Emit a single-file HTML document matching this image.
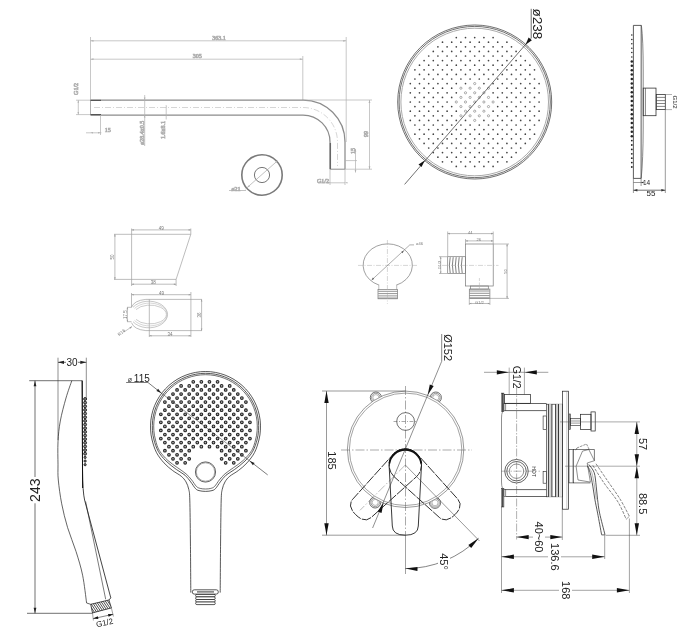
<!DOCTYPE html>
<html><head><meta charset="utf-8"><style>
html,body{margin:0;padding:0;background:#fff;}
svg{display:block;font-family:"Liberation Sans",sans-serif;filter:grayscale(1);}
</style></head><body>
<svg width="685" height="630" viewBox="0 0 685 630">
<rect width="685" height="630" fill="#fff"/>
<g stroke="#b0b0b0" stroke-width="0.7" fill="none">
<line x1="90.5" y1="40.8" x2="346.2" y2="40.8" stroke="#b0b0b0"/>
<path d="M90.5 40.8L93.5 39.9L93.5 41.7Z" fill="#b0b0b0" stroke="none"/>
<path d="M346.2 40.8L343.2 41.7L343.2 39.9Z" fill="#b0b0b0" stroke="none"/>
<line x1="90.5" y1="59.2" x2="302.8" y2="59.2" stroke="#b0b0b0"/>
<path d="M90.5 59.2L93.5 58.3L93.5 60.1Z" fill="#b0b0b0" stroke="none"/>
<path d="M302.8 59.2L299.8 60.1L299.8 58.3Z" fill="#b0b0b0" stroke="none"/>
<line x1="90.5" y1="37" x2="90.5" y2="100"/>
<line x1="302.8" y1="56" x2="302.8" y2="100"/>
<line x1="346.2" y1="37" x2="346.2" y2="142"/>
<text x="218.9" y="38.3" font-size="6" text-anchor="middle" dominant-baseline="central" fill="#888" font-family="Liberation Serif">363.1</text>
<text x="197.3" y="56.3" font-size="6" text-anchor="middle" dominant-baseline="central" fill="#888" font-family="Liberation Serif">305</text>
<path d="M90.5 100 L303 100 A42 42 0 0 1 345 142 L345 169.2" fill="none" stroke="#8c8c8c" stroke-width="1.25"/>
<path d="M90.5 115 L303 115 A27 27 0 0 1 330 142 L330 169.2" fill="none" stroke="#8c8c8c" stroke-width="1.25"/>
<line x1="90.5" y1="100" x2="90.5" y2="115" stroke="#8c8c8c" stroke-width="0.7"/>
<line x1="330" y1="169.2" x2="345" y2="169.2" stroke="#8c8c8c" stroke-width="1"/>
<path d="M94 107.5 L303 107.5 A34.5 34.5 0 0 1 337.5 142 L337.5 166" fill="none" stroke="#bbb" stroke-width="0.6" stroke-dasharray="6 2 1 2"/>
<line x1="90.5" y1="100.4" x2="101" y2="100.4" stroke="#555" stroke-width="1.2"/>
<line x1="90.5" y1="114.6" x2="101" y2="114.6" stroke="#555" stroke-width="1.2"/>
<line x1="330.4" y1="143" x2="330.4" y2="169" stroke="#666" stroke-width="1.3"/>
<line x1="303" y1="100" x2="372" y2="100"/>
<line x1="345" y1="169.2" x2="372" y2="169.2"/>
<line x1="369.5" y1="100" x2="369.5" y2="169.2" stroke="#b0b0b0"/>
<path d="M369.5 100L370.4 103L368.6 103Z" fill="#b0b0b0" stroke="none"/>
<path d="M369.5 169.2L368.6 166.2L370.4 166.2Z" fill="#b0b0b0" stroke="none"/>
<text x="366" y="134" font-size="6" text-anchor="middle" dominant-baseline="central" transform="rotate(-90 366 134)" fill="#888" font-family="Liberation Serif">99</text>
<line x1="345" y1="160.6" x2="357" y2="160.6"/>
<line x1="355.5" y1="149" x2="355.5" y2="172.5" stroke="#b0b0b0"/>
<path d="M355.5 149L356.3 151.5L354.7 151.5Z" fill="#b0b0b0" stroke="none"/>
<path d="M355.5 172.5L354.7 170L356.3 170Z" fill="#b0b0b0" stroke="none"/>
<text x="353" y="151" font-size="6" text-anchor="middle" dominant-baseline="central" transform="rotate(-90 353 151)" fill="#888" font-family="Liberation Serif">15</text>
<line x1="330" y1="169.2" x2="330" y2="185"/>
<line x1="345" y1="169.2" x2="345" y2="185"/>
<line x1="318" y1="182.8" x2="345" y2="182.8"/>
<path d="M330 182.8L327.5 183.6L327.5 182Z" fill="#b0b0b0" stroke="none"/>
<path d="M345 182.8L347.5 182L347.5 183.6Z" fill="#b0b0b0" stroke="none"/>
<text x="323" y="181" font-size="6" text-anchor="middle" dominant-baseline="central" fill="#888" font-family="Liberation Serif">G1/2</text>
<line x1="76" y1="100.2" x2="90" y2="100.2"/>
<line x1="76" y1="114.6" x2="90" y2="114.6"/>
<line x1="78.3" y1="100.2" x2="78.3" y2="114.6" stroke="#b0b0b0"/>
<path d="M78.3 100.2L79.1 102.7L77.5 102.7Z" fill="#b0b0b0" stroke="none"/>
<path d="M78.3 114.6L77.5 112.1L79.1 112.1Z" fill="#b0b0b0" stroke="none"/>
<text x="76.5" y="88.9" font-size="6" text-anchor="middle" dominant-baseline="central" transform="rotate(-90 76.5 88.9)" fill="#888" font-family="Liberation Serif">G1/2</text>
<line x1="100.5" y1="115" x2="100.5" y2="135"/>
<line x1="86" y1="132.8" x2="101.4" y2="132.8"/>
<path d="M90.5 132.8L93 132L93 133.6Z" fill="#b0b0b0" stroke="none"/>
<path d="M100.5 132.8L98 133.6L98 132Z" fill="#b0b0b0" stroke="none"/>
<text x="107.7" y="130.2" font-size="6" text-anchor="middle" dominant-baseline="central" fill="#888" font-family="Liberation Serif">15</text>
<line x1="144.7" y1="95" x2="144.7" y2="146"/>
<path d="M144.7 100L143.9 97.5L145.5 97.5Z" fill="#b0b0b0" stroke="none"/>
<path d="M144.7 115L145.5 117.5L143.9 117.5Z" fill="#b0b0b0" stroke="none"/>
<text x="142.1" y="132.8" font-size="6" text-anchor="middle" dominant-baseline="central" transform="rotate(-90 142.1 132.8)" fill="#888" font-family="Liberation Serif">ø28.4x0.5</text>
<line x1="166.2" y1="107" x2="166.2" y2="119.5"/>
<path d="M166.2 107.5L165.5 105.5L166.9 105.5Z" fill="#b0b0b0" stroke="none"/>
<text x="163.3" y="130" font-size="6" text-anchor="middle" dominant-baseline="central" transform="rotate(-90 163.3 130)" fill="#888" font-family="Liberation Serif">1.6x8.1</text>
<circle cx="262" cy="175" r="20.2" fill="none" stroke="#7a7a7a" stroke-width="1.6"/>
<circle cx="262" cy="175" r="7.6" fill="none" stroke="#777" stroke-width="1.0"/>
<line x1="245.5" y1="189" x2="277.5" y2="160.8" stroke="#999" stroke-width="0.6"/>
<path d="M277.5 160.8L276.14 163.04L275.09 161.84Z" fill="#b0b0b0" stroke="none"/>
<path d="M247.5 187.5L248.86 185.26L249.91 186.46Z" fill="#b0b0b0" stroke="none"/>
<line x1="229" y1="190.5" x2="246" y2="190.5" stroke="#999" stroke-width="0.6"/>
<text x="236" y="188.5" font-size="6" text-anchor="middle" dominant-baseline="central" fill="#888" font-family="Liberation Serif">ø21</text>
</g>
<g stroke="#444" fill="none">
<circle cx="474.7" cy="102" r="77" fill="none" stroke="#333" stroke-width="0.7"/>
<circle cx="474.7" cy="102" r="75.6" fill="none" stroke="#333" stroke-width="0.7"/>
<circle cx="474.7" cy="102" r="73.8" fill="none" stroke="#aaa" stroke-width="1.0"/>
</g>
<g fill="#444"><circle cx="456.3" cy="37.6" r="0.85"/><circle cx="465.5" cy="37.6" r="0.85"/><circle cx="474.7" cy="37.6" r="0.85"/><circle cx="483.9" cy="37.6" r="0.85"/><circle cx="493.1" cy="37.6" r="0.85"/><circle cx="442.5" cy="42.2" r="0.85"/><circle cx="451.7" cy="42.2" r="0.85"/><circle cx="460.9" cy="42.2" r="0.85"/><circle cx="470.1" cy="42.2" r="0.85"/><circle cx="479.3" cy="42.2" r="0.85"/><circle cx="488.5" cy="42.2" r="0.85"/><circle cx="497.7" cy="42.2" r="0.85"/><circle cx="506.9" cy="42.2" r="0.85"/><circle cx="437.9" cy="46.8" r="0.85"/><circle cx="447.1" cy="46.8" r="0.85"/><circle cx="456.3" cy="46.8" r="0.85"/><circle cx="465.5" cy="46.8" r="0.85"/><circle cx="474.7" cy="46.8" r="0.85"/><circle cx="483.9" cy="46.8" r="0.85"/><circle cx="493.1" cy="46.8" r="0.85"/><circle cx="502.3" cy="46.8" r="0.85"/><circle cx="511.5" cy="46.8" r="0.85"/><circle cx="433.3" cy="51.4" r="0.85"/><circle cx="442.5" cy="51.4" r="0.85"/><circle cx="451.7" cy="51.4" r="0.85"/><circle cx="460.9" cy="51.4" r="0.85"/><circle cx="470.1" cy="51.4" r="0.85"/><circle cx="479.3" cy="51.4" r="0.85"/><circle cx="488.5" cy="51.4" r="0.85"/><circle cx="497.7" cy="51.4" r="0.85"/><circle cx="506.9" cy="51.4" r="0.85"/><circle cx="516.1" cy="51.4" r="0.85"/><circle cx="428.7" cy="56" r="0.85"/><circle cx="437.9" cy="56" r="0.85"/><circle cx="447.1" cy="56" r="0.85"/><circle cx="456.3" cy="56" r="0.85"/><circle cx="465.5" cy="56" r="0.85"/><circle cx="474.7" cy="56" r="0.85"/><circle cx="483.9" cy="56" r="0.85"/><circle cx="493.1" cy="56" r="0.85"/><circle cx="502.3" cy="56" r="0.85"/><circle cx="511.5" cy="56" r="0.85"/><circle cx="520.7" cy="56" r="0.85"/><circle cx="424.1" cy="60.6" r="0.85"/><circle cx="433.3" cy="60.6" r="0.85"/><circle cx="442.5" cy="60.6" r="0.85"/><circle cx="451.7" cy="60.6" r="0.85"/><circle cx="460.9" cy="60.6" r="0.85"/><circle cx="470.1" cy="60.6" r="0.85"/><circle cx="479.3" cy="60.6" r="0.85"/><circle cx="488.5" cy="60.6" r="0.85"/><circle cx="497.7" cy="60.6" r="0.85"/><circle cx="506.9" cy="60.6" r="0.85"/><circle cx="516.1" cy="60.6" r="0.85"/><circle cx="525.3" cy="60.6" r="0.85"/><circle cx="419.5" cy="65.2" r="0.85"/><circle cx="428.7" cy="65.2" r="0.85"/><circle cx="437.9" cy="65.2" r="0.85"/><circle cx="447.1" cy="65.2" r="0.85"/><circle cx="456.3" cy="65.2" r="0.85"/><circle cx="465.5" cy="65.2" r="0.85"/><circle cx="474.7" cy="65.2" r="0.85"/><circle cx="483.9" cy="65.2" r="0.85"/><circle cx="493.1" cy="65.2" r="0.85"/><circle cx="502.3" cy="65.2" r="0.85"/><circle cx="511.5" cy="65.2" r="0.85"/><circle cx="520.7" cy="65.2" r="0.85"/><circle cx="529.9" cy="65.2" r="0.85"/><circle cx="414.9" cy="69.8" r="0.85"/><circle cx="424.1" cy="69.8" r="0.85"/><circle cx="433.3" cy="69.8" r="0.85"/><circle cx="442.5" cy="69.8" r="0.85"/><circle cx="451.7" cy="69.8" r="0.85"/><circle cx="460.9" cy="69.8" r="0.85"/><circle cx="470.1" cy="69.8" r="0.85"/><circle cx="479.3" cy="69.8" r="0.85"/><circle cx="488.5" cy="69.8" r="0.85"/><circle cx="497.7" cy="69.8" r="0.85"/><circle cx="506.9" cy="69.8" r="0.85"/><circle cx="516.1" cy="69.8" r="0.85"/><circle cx="525.3" cy="69.8" r="0.85"/><circle cx="534.5" cy="69.8" r="0.85"/><circle cx="419.5" cy="74.4" r="0.85"/><circle cx="428.7" cy="74.4" r="0.85"/><circle cx="437.9" cy="74.4" r="0.85"/><circle cx="447.1" cy="74.4" r="0.85"/><circle cx="456.3" cy="74.4" r="0.85"/><circle cx="465.5" cy="74.4" r="0.85"/><circle cx="474.7" cy="74.4" r="0.85"/><circle cx="483.9" cy="74.4" r="0.85"/><circle cx="493.1" cy="74.4" r="0.85"/><circle cx="502.3" cy="74.4" r="0.85"/><circle cx="511.5" cy="74.4" r="0.85"/><circle cx="520.7" cy="74.4" r="0.85"/><circle cx="529.9" cy="74.4" r="0.85"/><circle cx="414.9" cy="79" r="0.85"/><circle cx="424.1" cy="79" r="0.85"/><circle cx="433.3" cy="79" r="0.85"/><circle cx="442.5" cy="79" r="0.85"/><circle cx="451.7" cy="79" r="0.85"/><circle cx="460.9" cy="79" r="0.85"/><circle cx="470.1" cy="79" r="0.85"/><circle cx="479.3" cy="79" r="0.85"/><circle cx="488.5" cy="79" r="0.85"/><circle cx="497.7" cy="79" r="0.85"/><circle cx="506.9" cy="79" r="0.85"/><circle cx="516.1" cy="79" r="0.85"/><circle cx="525.3" cy="79" r="0.85"/><circle cx="534.5" cy="79" r="0.85"/><circle cx="410.3" cy="83.6" r="0.85"/><circle cx="419.5" cy="83.6" r="0.85"/><circle cx="428.7" cy="83.6" r="0.85"/><circle cx="437.9" cy="83.6" r="0.85"/><circle cx="447.1" cy="83.6" r="0.85"/><circle cx="456.3" cy="83.6" r="0.85"/><circle cx="465.5" cy="83.6" r="0.85"/><circle cx="474.7" cy="83.6" r="1.1" fill="none" stroke="#777" stroke-width="0.6"/><circle cx="483.9" cy="83.6" r="0.85"/><circle cx="493.1" cy="83.6" r="0.85"/><circle cx="502.3" cy="83.6" r="0.85"/><circle cx="511.5" cy="83.6" r="0.85"/><circle cx="520.7" cy="83.6" r="0.85"/><circle cx="529.9" cy="83.6" r="0.85"/><circle cx="539.1" cy="83.6" r="0.85"/><circle cx="414.9" cy="88.2" r="0.85"/><circle cx="424.1" cy="88.2" r="0.85"/><circle cx="433.3" cy="88.2" r="0.85"/><circle cx="442.5" cy="88.2" r="0.85"/><circle cx="451.7" cy="88.2" r="0.85"/><circle cx="460.9" cy="88.2" r="1.1" fill="none" stroke="#777" stroke-width="0.6"/><circle cx="470.1" cy="88.2" r="1.1" fill="none" stroke="#777" stroke-width="0.6"/><circle cx="479.3" cy="88.2" r="1.1" fill="none" stroke="#777" stroke-width="0.6"/><circle cx="488.5" cy="88.2" r="1.1" fill="none" stroke="#777" stroke-width="0.6"/><circle cx="497.7" cy="88.2" r="0.85"/><circle cx="506.9" cy="88.2" r="0.85"/><circle cx="516.1" cy="88.2" r="0.85"/><circle cx="525.3" cy="88.2" r="0.85"/><circle cx="534.5" cy="88.2" r="0.85"/><circle cx="410.3" cy="92.8" r="0.85"/><circle cx="419.5" cy="92.8" r="0.85"/><circle cx="428.7" cy="92.8" r="0.85"/><circle cx="437.9" cy="92.8" r="0.85"/><circle cx="447.1" cy="92.8" r="0.85"/><circle cx="456.3" cy="92.8" r="0.85"/><circle cx="465.5" cy="92.8" r="1.1" fill="none" stroke="#777" stroke-width="0.6"/><circle cx="474.7" cy="92.8" r="1.1" fill="none" stroke="#777" stroke-width="0.6"/><circle cx="483.9" cy="92.8" r="1.1" fill="none" stroke="#777" stroke-width="0.6"/><circle cx="493.1" cy="92.8" r="0.85"/><circle cx="502.3" cy="92.8" r="0.85"/><circle cx="511.5" cy="92.8" r="0.85"/><circle cx="520.7" cy="92.8" r="0.85"/><circle cx="529.9" cy="92.8" r="0.85"/><circle cx="539.1" cy="92.8" r="0.85"/><circle cx="414.9" cy="97.4" r="0.85"/><circle cx="424.1" cy="97.4" r="0.85"/><circle cx="433.3" cy="97.4" r="0.85"/><circle cx="442.5" cy="97.4" r="0.85"/><circle cx="451.7" cy="97.4" r="0.85"/><circle cx="460.9" cy="97.4" r="1.1" fill="none" stroke="#777" stroke-width="0.6"/><circle cx="470.1" cy="97.4" r="1.1" fill="none" stroke="#777" stroke-width="0.6"/><circle cx="479.3" cy="97.4" r="1.1" fill="none" stroke="#777" stroke-width="0.6"/><circle cx="488.5" cy="97.4" r="1.1" fill="none" stroke="#777" stroke-width="0.6"/><circle cx="497.7" cy="97.4" r="0.85"/><circle cx="506.9" cy="97.4" r="0.85"/><circle cx="516.1" cy="97.4" r="0.85"/><circle cx="525.3" cy="97.4" r="0.85"/><circle cx="534.5" cy="97.4" r="0.85"/><circle cx="410.3" cy="102" r="0.85"/><circle cx="419.5" cy="102" r="0.85"/><circle cx="428.7" cy="102" r="0.85"/><circle cx="437.9" cy="102" r="0.85"/><circle cx="447.1" cy="102" r="0.85"/><circle cx="456.3" cy="102" r="1.1" fill="none" stroke="#777" stroke-width="0.6"/><circle cx="465.5" cy="102" r="1.1" fill="none" stroke="#777" stroke-width="0.6"/><circle cx="474.7" cy="102" r="1.1" fill="none" stroke="#777" stroke-width="0.6"/><circle cx="483.9" cy="102" r="1.1" fill="none" stroke="#777" stroke-width="0.6"/><circle cx="493.1" cy="102" r="1.1" fill="none" stroke="#777" stroke-width="0.6"/><circle cx="502.3" cy="102" r="0.85"/><circle cx="511.5" cy="102" r="0.85"/><circle cx="520.7" cy="102" r="0.85"/><circle cx="529.9" cy="102" r="0.85"/><circle cx="539.1" cy="102" r="0.85"/><circle cx="414.9" cy="106.6" r="0.85"/><circle cx="424.1" cy="106.6" r="0.85"/><circle cx="433.3" cy="106.6" r="0.85"/><circle cx="442.5" cy="106.6" r="0.85"/><circle cx="451.7" cy="106.6" r="0.85"/><circle cx="460.9" cy="106.6" r="1.1" fill="none" stroke="#777" stroke-width="0.6"/><circle cx="470.1" cy="106.6" r="1.1" fill="none" stroke="#777" stroke-width="0.6"/><circle cx="479.3" cy="106.6" r="1.1" fill="none" stroke="#777" stroke-width="0.6"/><circle cx="488.5" cy="106.6" r="1.1" fill="none" stroke="#777" stroke-width="0.6"/><circle cx="497.7" cy="106.6" r="0.85"/><circle cx="506.9" cy="106.6" r="0.85"/><circle cx="516.1" cy="106.6" r="0.85"/><circle cx="525.3" cy="106.6" r="0.85"/><circle cx="534.5" cy="106.6" r="0.85"/><circle cx="410.3" cy="111.2" r="0.85"/><circle cx="419.5" cy="111.2" r="0.85"/><circle cx="428.7" cy="111.2" r="0.85"/><circle cx="437.9" cy="111.2" r="0.85"/><circle cx="447.1" cy="111.2" r="0.85"/><circle cx="456.3" cy="111.2" r="0.85"/><circle cx="465.5" cy="111.2" r="1.1" fill="none" stroke="#777" stroke-width="0.6"/><circle cx="474.7" cy="111.2" r="1.1" fill="none" stroke="#777" stroke-width="0.6"/><circle cx="483.9" cy="111.2" r="1.1" fill="none" stroke="#777" stroke-width="0.6"/><circle cx="493.1" cy="111.2" r="0.85"/><circle cx="502.3" cy="111.2" r="0.85"/><circle cx="511.5" cy="111.2" r="0.85"/><circle cx="520.7" cy="111.2" r="0.85"/><circle cx="529.9" cy="111.2" r="0.85"/><circle cx="539.1" cy="111.2" r="0.85"/><circle cx="414.9" cy="115.8" r="0.85"/><circle cx="424.1" cy="115.8" r="0.85"/><circle cx="433.3" cy="115.8" r="0.85"/><circle cx="442.5" cy="115.8" r="0.85"/><circle cx="451.7" cy="115.8" r="0.85"/><circle cx="460.9" cy="115.8" r="1.1" fill="none" stroke="#777" stroke-width="0.6"/><circle cx="470.1" cy="115.8" r="1.1" fill="none" stroke="#777" stroke-width="0.6"/><circle cx="479.3" cy="115.8" r="1.1" fill="none" stroke="#777" stroke-width="0.6"/><circle cx="488.5" cy="115.8" r="1.1" fill="none" stroke="#777" stroke-width="0.6"/><circle cx="497.7" cy="115.8" r="0.85"/><circle cx="506.9" cy="115.8" r="0.85"/><circle cx="516.1" cy="115.8" r="0.85"/><circle cx="525.3" cy="115.8" r="0.85"/><circle cx="534.5" cy="115.8" r="0.85"/><circle cx="410.3" cy="120.4" r="0.85"/><circle cx="419.5" cy="120.4" r="0.85"/><circle cx="428.7" cy="120.4" r="0.85"/><circle cx="437.9" cy="120.4" r="0.85"/><circle cx="447.1" cy="120.4" r="0.85"/><circle cx="456.3" cy="120.4" r="0.85"/><circle cx="465.5" cy="120.4" r="0.85"/><circle cx="474.7" cy="120.4" r="1.1" fill="none" stroke="#777" stroke-width="0.6"/><circle cx="483.9" cy="120.4" r="0.85"/><circle cx="493.1" cy="120.4" r="0.85"/><circle cx="502.3" cy="120.4" r="0.85"/><circle cx="511.5" cy="120.4" r="0.85"/><circle cx="520.7" cy="120.4" r="0.85"/><circle cx="529.9" cy="120.4" r="0.85"/><circle cx="539.1" cy="120.4" r="0.85"/><circle cx="414.9" cy="125" r="0.85"/><circle cx="424.1" cy="125" r="0.85"/><circle cx="433.3" cy="125" r="0.85"/><circle cx="442.5" cy="125" r="0.85"/><circle cx="451.7" cy="125" r="0.85"/><circle cx="460.9" cy="125" r="0.85"/><circle cx="470.1" cy="125" r="0.85"/><circle cx="479.3" cy="125" r="0.85"/><circle cx="488.5" cy="125" r="0.85"/><circle cx="497.7" cy="125" r="0.85"/><circle cx="506.9" cy="125" r="0.85"/><circle cx="516.1" cy="125" r="0.85"/><circle cx="525.3" cy="125" r="0.85"/><circle cx="534.5" cy="125" r="0.85"/><circle cx="419.5" cy="129.6" r="0.85"/><circle cx="428.7" cy="129.6" r="0.85"/><circle cx="437.9" cy="129.6" r="0.85"/><circle cx="447.1" cy="129.6" r="0.85"/><circle cx="456.3" cy="129.6" r="0.85"/><circle cx="465.5" cy="129.6" r="0.85"/><circle cx="474.7" cy="129.6" r="0.85"/><circle cx="483.9" cy="129.6" r="0.85"/><circle cx="493.1" cy="129.6" r="0.85"/><circle cx="502.3" cy="129.6" r="0.85"/><circle cx="511.5" cy="129.6" r="0.85"/><circle cx="520.7" cy="129.6" r="0.85"/><circle cx="529.9" cy="129.6" r="0.85"/><circle cx="414.9" cy="134.2" r="0.85"/><circle cx="424.1" cy="134.2" r="0.85"/><circle cx="433.3" cy="134.2" r="0.85"/><circle cx="442.5" cy="134.2" r="0.85"/><circle cx="451.7" cy="134.2" r="0.85"/><circle cx="460.9" cy="134.2" r="0.85"/><circle cx="470.1" cy="134.2" r="0.85"/><circle cx="479.3" cy="134.2" r="0.85"/><circle cx="488.5" cy="134.2" r="0.85"/><circle cx="497.7" cy="134.2" r="0.85"/><circle cx="506.9" cy="134.2" r="0.85"/><circle cx="516.1" cy="134.2" r="0.85"/><circle cx="525.3" cy="134.2" r="0.85"/><circle cx="534.5" cy="134.2" r="0.85"/><circle cx="419.5" cy="138.8" r="0.85"/><circle cx="428.7" cy="138.8" r="0.85"/><circle cx="437.9" cy="138.8" r="0.85"/><circle cx="447.1" cy="138.8" r="0.85"/><circle cx="456.3" cy="138.8" r="0.85"/><circle cx="465.5" cy="138.8" r="0.85"/><circle cx="474.7" cy="138.8" r="0.85"/><circle cx="483.9" cy="138.8" r="0.85"/><circle cx="493.1" cy="138.8" r="0.85"/><circle cx="502.3" cy="138.8" r="0.85"/><circle cx="511.5" cy="138.8" r="0.85"/><circle cx="520.7" cy="138.8" r="0.85"/><circle cx="529.9" cy="138.8" r="0.85"/><circle cx="424.1" cy="143.4" r="0.85"/><circle cx="433.3" cy="143.4" r="0.85"/><circle cx="442.5" cy="143.4" r="0.85"/><circle cx="451.7" cy="143.4" r="0.85"/><circle cx="460.9" cy="143.4" r="0.85"/><circle cx="470.1" cy="143.4" r="0.85"/><circle cx="479.3" cy="143.4" r="0.85"/><circle cx="488.5" cy="143.4" r="0.85"/><circle cx="497.7" cy="143.4" r="0.85"/><circle cx="506.9" cy="143.4" r="0.85"/><circle cx="516.1" cy="143.4" r="0.85"/><circle cx="525.3" cy="143.4" r="0.85"/><circle cx="428.7" cy="148" r="0.85"/><circle cx="437.9" cy="148" r="0.85"/><circle cx="447.1" cy="148" r="0.85"/><circle cx="456.3" cy="148" r="0.85"/><circle cx="465.5" cy="148" r="0.85"/><circle cx="474.7" cy="148" r="0.85"/><circle cx="483.9" cy="148" r="0.85"/><circle cx="493.1" cy="148" r="0.85"/><circle cx="502.3" cy="148" r="0.85"/><circle cx="511.5" cy="148" r="0.85"/><circle cx="520.7" cy="148" r="0.85"/><circle cx="433.3" cy="152.6" r="0.85"/><circle cx="442.5" cy="152.6" r="0.85"/><circle cx="451.7" cy="152.6" r="0.85"/><circle cx="460.9" cy="152.6" r="0.85"/><circle cx="470.1" cy="152.6" r="0.85"/><circle cx="479.3" cy="152.6" r="0.85"/><circle cx="488.5" cy="152.6" r="0.85"/><circle cx="497.7" cy="152.6" r="0.85"/><circle cx="506.9" cy="152.6" r="0.85"/><circle cx="516.1" cy="152.6" r="0.85"/><circle cx="437.9" cy="157.2" r="0.85"/><circle cx="447.1" cy="157.2" r="0.85"/><circle cx="456.3" cy="157.2" r="0.85"/><circle cx="465.5" cy="157.2" r="0.85"/><circle cx="474.7" cy="157.2" r="0.85"/><circle cx="483.9" cy="157.2" r="0.85"/><circle cx="493.1" cy="157.2" r="0.85"/><circle cx="502.3" cy="157.2" r="0.85"/><circle cx="511.5" cy="157.2" r="0.85"/><circle cx="442.5" cy="161.8" r="0.85"/><circle cx="451.7" cy="161.8" r="0.85"/><circle cx="460.9" cy="161.8" r="0.85"/><circle cx="470.1" cy="161.8" r="0.85"/><circle cx="479.3" cy="161.8" r="0.85"/><circle cx="488.5" cy="161.8" r="0.85"/><circle cx="497.7" cy="161.8" r="0.85"/><circle cx="506.9" cy="161.8" r="0.85"/><circle cx="456.3" cy="166.4" r="0.85"/><circle cx="465.5" cy="166.4" r="0.85"/><circle cx="474.7" cy="166.4" r="0.85"/><circle cx="483.9" cy="166.4" r="0.85"/><circle cx="493.1" cy="166.4" r="0.85"/></g>
<line x1="404.6" y1="184.4" x2="530.5" y2="38.8" stroke="#333" stroke-width="0.7"/>
<line x1="530.5" y1="38.8" x2="531.2" y2="38.3" stroke="#333" stroke-width="0.7"/>
<path d="M424.6 160.5L421.56 167.12L418.53 164.51Z" fill="#111" stroke="none"/>
<path d="M525.6 44.8L528.56 37.6L531.87 40.18Z" fill="#111" stroke="none"/>
<line x1="531.2" y1="8.8" x2="531.2" y2="38.3" stroke="#333" stroke-width="0.7"/>
<text x="537" y="23.8" font-size="13.5" text-anchor="middle" dominant-baseline="central" transform="rotate(90 537 23.8)" fill="#222">ø238</text>
<g stroke="#333" stroke-width="0.8" fill="none">
<path d="M641.3 25.4 L633.4 25.4 L633.4 178.4 L641.1 178.4 L641.2 25.4" fill="none"/>
<path d="M641.4 25.4 Q643.2 40 643.2 70 L643.2 128 Q643.1 160 641.2 178.3" fill="none" stroke="#555" stroke-width="0.7"/>
<line x1="641.1" y1="178.3" x2="641.1" y2="186" stroke="#555" stroke-width="0.6"/>
<rect x="643.2" y="88.1" width="12.8" height="27.6" fill="none"/>
<line x1="645.4" y1="88.1" x2="645.4" y2="115.7" stroke="#333" stroke-width="0.6"/>
<rect x="656.3" y="94.5" width="9" height="15.1" fill="none"/>
<line x1="656.5" y1="97.4" x2="665.1" y2="97.4" stroke="#333" stroke-width="0.6"/>
<line x1="656.5" y1="100.6" x2="665.1" y2="100.6" stroke="#333" stroke-width="0.6"/>
<line x1="656.5" y1="103.5" x2="665.1" y2="103.5" stroke="#333" stroke-width="0.6"/>
<line x1="656.5" y1="106.4" x2="665.1" y2="106.4" stroke="#333" stroke-width="0.6"/>
<line x1="665.3" y1="94.5" x2="672" y2="94.5" stroke="#666" stroke-width="0.5"/>
<line x1="665.3" y1="109.6" x2="672" y2="109.6" stroke="#666" stroke-width="0.5"/>
<line x1="665.3" y1="109.6" x2="665.3" y2="193" stroke="#555" stroke-width="0.6"/>
</g>
<g fill="#222"><circle cx="631.8" cy="35" r="0.75"/><circle cx="631.8" cy="39.4" r="0.75"/><circle cx="631.8" cy="43.8" r="0.75"/><circle cx="631.8" cy="48.2" r="0.75"/><circle cx="631.8" cy="52.6" r="0.75"/><circle cx="631.8" cy="57" r="0.75"/><circle cx="631.8" cy="61.4" r="1.25"/><circle cx="631.8" cy="65.8" r="1.25"/><circle cx="631.8" cy="70.2" r="1.25"/><circle cx="631.8" cy="74.6" r="1.25"/><circle cx="631.8" cy="79" r="1.25"/><circle cx="631.8" cy="83.4" r="1.25"/><circle cx="631.8" cy="87.8" r="1.25"/><circle cx="631.8" cy="92.2" r="1.25"/><circle cx="631.8" cy="96.6" r="1.25"/><circle cx="631.8" cy="101" r="1.25"/><circle cx="631.8" cy="105.4" r="1.25"/><circle cx="631.8" cy="109.8" r="1.25"/><circle cx="631.8" cy="114.2" r="1.25"/><circle cx="631.8" cy="118.6" r="1.25"/><circle cx="631.8" cy="123" r="1.25"/><circle cx="631.8" cy="127.4" r="1.25"/><circle cx="631.8" cy="131.8" r="1.25"/><circle cx="631.8" cy="136.2" r="1.25"/><circle cx="631.8" cy="140.6" r="0.9"/><circle cx="631.8" cy="145" r="0.9"/><circle cx="631.8" cy="149.4" r="0.9"/><circle cx="631.8" cy="153.8" r="0.9"/><circle cx="631.8" cy="158.2" r="0.9"/><circle cx="631.8" cy="162.6" r="0.9"/><circle cx="631.8" cy="167" r="0.9"/></g>
<line x1="633.4" y1="190.2" x2="665.3" y2="190.2" stroke="#333" stroke-width="0.7"/>
<path d="M633.4 190.2L637.4 188.9L637.4 191.5Z" fill="#333" stroke="none"/>
<path d="M665.3 190.2L661.3 191.5L661.3 188.9Z" fill="#333" stroke="none"/>
<line x1="633.4" y1="178" x2="633.4" y2="193" stroke="#555" stroke-width="0.6"/>
<text x="651" y="193.6" font-size="8" text-anchor="middle" dominant-baseline="central" fill="#222">55</text>
<line x1="633.4" y1="182.5" x2="643" y2="182.5" stroke="#555" stroke-width="0.6"/>
<path d="M641.1 182.5L643.6 181.5L643.6 183.5Z" fill="#333" stroke="none"/>
<text x="646.6" y="182.5" font-size="6.5" text-anchor="middle" dominant-baseline="central" fill="#222">14</text>
<text x="675" y="102" font-size="6" text-anchor="middle" dominant-baseline="central" transform="rotate(90 675 102)" fill="#222">G1/2</text>
<g stroke="#999" stroke-width="0.65" fill="none">
<path d="M131.6 234.3 L190.8 234.3 L176.1 279.4 L131.6 279.4" fill="none"/>
<line x1="131.6" y1="228.5" x2="131.6" y2="286"/>
<line x1="114" y1="234.3" x2="131.6" y2="234.3"/>
<line x1="114" y1="279.4" x2="131.6" y2="279.4"/>
<line x1="190.8" y1="228.5" x2="190.8" y2="234.3"/>
<line x1="176.1" y1="279.4" x2="176.1" y2="286"/>
<line x1="131.6" y1="229.9" x2="190.8" y2="229.9" stroke="#999"/>
<path d="M131.6 229.9L133.8 229.1L133.8 230.7Z" fill="#999" stroke="none"/>
<path d="M190.8 229.9L188.6 230.7L188.6 229.1Z" fill="#999" stroke="none"/>
<line x1="114.9" y1="234.3" x2="114.9" y2="279.4" stroke="#999"/>
<path d="M114.9 234.3L115.7 236.5L114.1 236.5Z" fill="#999" stroke="none"/>
<path d="M114.9 279.4L114.1 277.2L115.7 277.2Z" fill="#999" stroke="none"/>
<line x1="131.6" y1="284.2" x2="176.1" y2="284.2" stroke="#999"/>
<path d="M131.6 284.2L133.8 283.4L133.8 285Z" fill="#999" stroke="none"/>
<path d="M176.1 284.2L173.9 285L173.9 283.4Z" fill="#999" stroke="none"/>
<line x1="131.5" y1="293" x2="131.5" y2="307.3"/>
<line x1="131.5" y1="294.7" x2="190.9" y2="294.7" stroke="#999"/>
<path d="M131.5 294.7L133.7 293.9L133.7 295.5Z" fill="#999" stroke="none"/>
<path d="M190.9 294.7L188.7 295.5L188.7 293.9Z" fill="#999" stroke="none"/>
<line x1="145.8" y1="299.4" x2="202" y2="299.4"/>
<line x1="145.8" y1="330.6" x2="202" y2="330.6"/>
<line x1="190.9" y1="292" x2="190.9" y2="337"/>
<line x1="149.3" y1="299.4" x2="149.3" y2="337"/>
<line x1="201.6" y1="299.4" x2="201.6" y2="330.6" stroke="#999"/>
<path d="M201.6 299.4L202.4 301.6L200.8 301.6Z" fill="#999" stroke="none"/>
<path d="M201.6 330.6L200.8 328.4L202.4 328.4Z" fill="#999" stroke="none"/>
<line x1="149.3" y1="335.8" x2="190.9" y2="335.8" stroke="#999"/>
<path d="M149.3 335.8L151.5 335L151.5 336.6Z" fill="#999" stroke="none"/>
<path d="M190.9 335.8L188.7 336.6L188.7 335Z" fill="#999" stroke="none"/>
<path d="M131.5 307.3 Q134 300.5 145.8 299.4" fill="none"/>
<path d="M131.5 322.7 Q134 329.5 145.8 330.6" fill="none"/>
<path d="M133 307.3 A18.76 13.3 0 1 1 133 321.7" fill="none" stroke="#aaa" stroke-width="0.65"/>
<path d="M134.5 308.6 A17.6 11.4 0 1 1 134.5 320.4" fill="none" stroke="#bbb" stroke-width="0.6"/>
<path d="M136 309.6 A16.4 9.4 0 1 1 136 319.4" fill="none" stroke="#aaa" stroke-width="0.6"/>
<line x1="127" y1="307.3" x2="131.5" y2="307.3"/>
<line x1="127" y1="321.7" x2="131.5" y2="321.7"/>
<line x1="127.4" y1="307.3" x2="127.4" y2="321.7" stroke="#999"/>
<path d="M127.4 307.3L128.2 309.3L126.6 309.3Z" fill="#999" stroke="none"/>
<path d="M127.4 321.7L126.6 319.7L128.2 319.7Z" fill="#999" stroke="none"/>
<line x1="132" y1="326.5" x2="124" y2="332" stroke="#999" stroke-width="0.6"/>
<path d="M132 326.5L130.47 328.67L129.44 327.2Z" fill="#999" stroke="none"/>
</g>
<text x="161.2" y="228.3" font-size="4.5" text-anchor="middle" dominant-baseline="central" fill="#777">49</text>
<text x="112.3" y="257" font-size="4.5" text-anchor="middle" dominant-baseline="central" transform="rotate(-90 112.3 257)" fill="#777">50</text>
<text x="153.2" y="282.6" font-size="4.5" text-anchor="middle" dominant-baseline="central" fill="#777">38</text>
<text x="161.5" y="293" font-size="4.5" text-anchor="middle" dominant-baseline="central" fill="#777">49</text>
<text x="199.4" y="315" font-size="4.5" text-anchor="middle" dominant-baseline="central" transform="rotate(-90 199.4 315)" fill="#777">36</text>
<text x="170" y="334.2" font-size="4.5" text-anchor="middle" dominant-baseline="central" fill="#777">34</text>
<text x="125.2" y="314.5" font-size="4.5" text-anchor="middle" dominant-baseline="central" transform="rotate(-90 125.2 314.5)" fill="#777">17.5</text>
<text x="121.5" y="332.5" font-size="4.5" text-anchor="middle" dominant-baseline="central" transform="rotate(-40 121.5 332.5)" fill="#777">R16</text>
<g stroke="#999" stroke-width="0.65" fill="none">
<path d="M378.8 285 A24.6 21.3 0 1 1 396.7 285" fill="none" stroke="#777" stroke-width="0.7"/>
<line x1="378.8" y1="284.5" x2="378.8" y2="289.5"/>
<line x1="396.7" y1="284.5" x2="396.7" y2="289.5"/>
<rect x="378" y="289.5" width="19.6" height="9.3" fill="none" stroke="#777" stroke-width="0.7"/>
<line x1="378.3" y1="291.3" x2="397.3" y2="291.3" stroke="#666" stroke-width="0.7"/>
<line x1="378.3" y1="293.6" x2="397.3" y2="293.6" stroke="#666" stroke-width="0.7"/>
<line x1="378.3" y1="295.9" x2="397.3" y2="295.9" stroke="#666" stroke-width="0.7"/>
<line x1="378.3" y1="298" x2="397.3" y2="298" stroke="#666" stroke-width="0.7"/>
<line x1="387.4" y1="240" x2="387.4" y2="303.8" stroke="#aaa" stroke-width="0.5" stroke-dasharray="5 1.5 1 1.5"/>
<line x1="358" y1="265.4" x2="417.5" y2="265.4" stroke="#aaa" stroke-width="0.5" stroke-dasharray="5 1.5 1 1.5"/>
<line x1="371.7" y1="280" x2="409.8" y2="244.9" stroke="#777" stroke-width="0.6"/>
<line x1="409.8" y1="244.9" x2="414" y2="244.9" stroke="#777" stroke-width="0.6"/>
<path d="M371.7 280L372.86 277.57L374.22 279.04Z" fill="#555" stroke="none"/>
<path d="M403.8 250.8L402.64 253.23L401.28 251.76Z" fill="#555" stroke="none"/>
<rect x="465.5" y="244" width="27.7" height="42" fill="none" stroke="#777" stroke-width="0.7"/>
<rect x="447.7" y="256.7" width="17.8" height="16.8" fill="none" stroke="#777" stroke-width="0.7"/>
<path d="M450.2 257.2 Q448.6 265 450.2 273" fill="none" stroke="#555" stroke-width="0.75"/>
<path d="M453.2 257.2 Q451.6 265 453.2 273" fill="none" stroke="#555" stroke-width="0.75"/>
<path d="M456.2 257.2 Q454.6 265 456.2 273" fill="none" stroke="#555" stroke-width="0.75"/>
<path d="M459.2 257.2 Q457.6 265 459.2 273" fill="none" stroke="#555" stroke-width="0.75"/>
<path d="M462.2 257.2 Q460.6 265 462.2 273" fill="none" stroke="#555" stroke-width="0.75"/>
<line x1="439" y1="256.7" x2="447.7" y2="256.7"/>
<line x1="439" y1="273.5" x2="447.7" y2="273.5"/>
<line x1="440.7" y1="256.7" x2="440.7" y2="273.5" stroke="#999"/>
<path d="M440.7 256.7L441.5 258.7L439.9 258.7Z" fill="#999" stroke="none"/>
<path d="M440.7 273.5L439.9 271.5L441.5 271.5Z" fill="#999" stroke="none"/>
<line x1="447.7" y1="231.5" x2="447.7" y2="256.7"/>
<line x1="493.2" y1="231.5" x2="493.2" y2="244"/>
<line x1="465.5" y1="239" x2="465.5" y2="244"/>
<line x1="447.7" y1="233.6" x2="493.2" y2="233.6" stroke="#999"/>
<path d="M447.7 233.6L449.9 232.8L449.9 234.4Z" fill="#999" stroke="none"/>
<path d="M493.2 233.6L491 234.4L491 232.8Z" fill="#999" stroke="none"/>
<line x1="465.5" y1="240.9" x2="493.2" y2="240.9" stroke="#999"/>
<path d="M465.5 240.9L467.7 240.1L467.7 241.7Z" fill="#999" stroke="none"/>
<path d="M493.2 240.9L491 241.7L491 240.1Z" fill="#999" stroke="none"/>
<line x1="493.2" y1="244" x2="509" y2="244"/>
<line x1="489.9" y1="298.4" x2="509" y2="298.4"/>
<line x1="507.1" y1="244" x2="507.1" y2="298.4" stroke="#999"/>
<path d="M507.1 244L507.9 246.2L506.3 246.2Z" fill="#999" stroke="none"/>
<path d="M507.1 298.4L506.3 296.2L507.9 296.2Z" fill="#999" stroke="none"/>
<rect x="470.6" y="286" width="17.7" height="3.1" fill="none" stroke="#777" stroke-width="0.7"/>
<rect x="469.3" y="289.1" width="20.6" height="9.3" fill="none" stroke="#777" stroke-width="0.7"/>
<line x1="469.6" y1="291" x2="489.6" y2="291" stroke="#666" stroke-width="0.7"/>
<line x1="469.6" y1="293.3" x2="489.6" y2="293.3" stroke="#666" stroke-width="0.7"/>
<line x1="469.6" y1="295.6" x2="489.6" y2="295.6" stroke="#666" stroke-width="0.7"/>
<line x1="469.6" y1="297.8" x2="489.6" y2="297.8" stroke="#666" stroke-width="0.7"/>
<line x1="469.3" y1="298.4" x2="469.3" y2="305"/>
<line x1="489.9" y1="298.4" x2="489.9" y2="305"/>
<line x1="469.3" y1="303.5" x2="489.9" y2="303.5" stroke="#999"/>
<path d="M469.3 303.5L471.3 302.7L471.3 304.3Z" fill="#999" stroke="none"/>
<path d="M489.9 303.5L487.9 304.3L487.9 302.7Z" fill="#999" stroke="none"/>
<line x1="442" y1="265.4" x2="498.5" y2="265.4" stroke="#aaa" stroke-width="0.5" stroke-dasharray="5 1.5 1 1.5"/>
<line x1="479.4" y1="278" x2="479.4" y2="290" stroke="#aaa" stroke-width="0.5" stroke-dasharray="3 1.5"/>
</g>
<text x="419.5" y="243.6" font-size="4" text-anchor="middle" dominant-baseline="central" fill="#777">ø46</text>
<text x="439" y="265" font-size="4" text-anchor="middle" dominant-baseline="central" transform="rotate(-90 439 265)" fill="#777">G1/2</text>
<text x="470.3" y="232" font-size="4" text-anchor="middle" dominant-baseline="central" fill="#777">44</text>
<text x="478.8" y="239.3" font-size="4" text-anchor="middle" dominant-baseline="central" fill="#777">26</text>
<text x="505.3" y="271.5" font-size="4" text-anchor="middle" dominant-baseline="central" transform="rotate(-90 505.3 271.5)" fill="#777">50</text>
<text x="479.4" y="302.2" font-size="4" text-anchor="middle" dominant-baseline="central" fill="#777">G1/2</text>
<g stroke="#222" stroke-width="0.8" fill="none">
<line x1="58" y1="357.7" x2="58" y2="440" stroke="#444" stroke-width="0.6"/>
<line x1="86.3" y1="357.7" x2="86.3" y2="400" stroke="#444" stroke-width="0.6"/>
<line x1="58" y1="362.3" x2="66" y2="362.3" stroke="#333" stroke-width="0.7"/>
<line x1="78" y1="362.3" x2="86.3" y2="362.3" stroke="#333" stroke-width="0.7"/>
<line x1="29.2" y1="380.7" x2="82.2" y2="380.7" stroke="#333" stroke-width="0.7"/>
<line x1="27" y1="613.3" x2="92.5" y2="613.3" stroke="#333" stroke-width="0.7"/>
<line x1="35" y1="380.7" x2="35" y2="477" stroke="#333" stroke-width="0.7"/>
<line x1="35" y1="503.3" x2="35" y2="613.3" stroke="#333" stroke-width="0.7"/>
<path d="M71.8 380.7C70.83 383.58 67.92 391.28 66 398C64.08 404.72 61.63 413.72 60.3 421C58.97 428.28 58.38 434.4 58 441.7C57.62 449 57.95 458.42 58 464.8C58.05 471.18 57.68 473.5 58.3 480C58.92 486.5 60.15 495.87 61.7 503.8C63.25 511.73 65.22 519.67 67.6 527.6C69.98 535.53 73.5 543.47 76 551.4C78.5 559.33 80.83 566.6 82.6 575.2C84.37 583.8 85.93 598.37 86.6 603L90.7 604.3" fill="none" stroke="#222" stroke-width="0.7"/>
<path d="M82.2 380.7 L82.5 470 Q82.7 492 84.6 500 L110.8 597.9 L108.9 600" fill="none" stroke="#222" stroke-width="0.85"/>
<path d="M85.6 501.4 L105.7 599.3" fill="none" stroke="#222" stroke-width="0.6"/>
<line x1="82.2" y1="380.7" x2="82.6" y2="488" stroke="#111" stroke-width="1.0"/>
</g>
<g fill="#888" stroke="#1a1a1a" stroke-width="0.9"><circle cx="85.1" cy="399" r="1.45"/><circle cx="85.1" cy="402.65" r="1.45"/><circle cx="85.1" cy="406.3" r="1.45"/><circle cx="85.1" cy="409.95" r="1.45"/><circle cx="85.1" cy="413.6" r="1.45"/><circle cx="85.1" cy="417.25" r="1.45"/><circle cx="85.1" cy="420.9" r="1.45"/><circle cx="85.1" cy="424.55" r="1.45"/><circle cx="85.1" cy="428.2" r="1.45"/><circle cx="85.1" cy="431.85" r="1.45"/><circle cx="85.1" cy="435.5" r="1.45"/><circle cx="85.1" cy="439.15" r="1.45"/><circle cx="85.1" cy="442.8" r="1.45"/><circle cx="85.1" cy="446.45" r="1.45"/><circle cx="85.1" cy="450.1" r="1.45"/><circle cx="85.1" cy="453.75" r="1.45"/><circle cx="85.1" cy="457.4" r="1.1"/><circle cx="85.1" cy="461.05" r="1.1"/><circle cx="85.1" cy="464.7" r="1.1"/></g>
<clipPath id="thr"><path d="M90.7 604.3 L108.9 600 L111.4 607.9 L92.5 612.9 Z"/></clipPath>
<g clip-path="url(#thr)" stroke="#222" stroke-width="0.8"><line x1="78" y1="598" x2="90" y2="616"/><line x1="80.3" y1="598" x2="92.3" y2="616"/><line x1="82.6" y1="598" x2="94.6" y2="616"/><line x1="84.9" y1="598" x2="96.9" y2="616"/><line x1="87.2" y1="598" x2="99.2" y2="616"/><line x1="89.5" y1="598" x2="101.5" y2="616"/><line x1="91.8" y1="598" x2="103.8" y2="616"/><line x1="94.1" y1="598" x2="106.1" y2="616"/><line x1="96.4" y1="598" x2="108.4" y2="616"/><line x1="98.7" y1="598" x2="110.7" y2="616"/><line x1="101" y1="598" x2="113" y2="616"/><line x1="103.3" y1="598" x2="115.3" y2="616"/><line x1="105.6" y1="598" x2="117.6" y2="616"/><line x1="107.9" y1="598" x2="119.9" y2="616"/><line x1="110.2" y1="598" x2="122.2" y2="616"/><line x1="112.5" y1="598" x2="124.5" y2="616"/></g>
<path d="M90.7 604.3 L108.9 600 L111.4 607.9 L92.5 612.9 Z" fill="none" stroke="#222" stroke-width="0.8"/>
<path d="M58 362.3L64 360.7L64 363.9Z" fill="#222" stroke="none"/>
<path d="M86.3 362.3L80.3 363.9L80.3 360.7Z" fill="#222" stroke="none"/>
<path d="M35 380.7L36.4 386.2L33.6 386.2Z" fill="#222" stroke="none"/>
<path d="M35 613.3L33.6 607.8L36.4 607.8Z" fill="#222" stroke="none"/>
<line x1="92.5" y1="612.9" x2="93.4" y2="620.5" stroke="#444" stroke-width="0.5"/>
<line x1="111.4" y1="607.9" x2="113.4" y2="616.5" stroke="#444" stroke-width="0.5"/>
<line x1="93.2" y1="618.6" x2="113.2" y2="614.3" stroke="#333" stroke-width="0.6"/>
<path d="M93.2 618.6L97.8 616.18L98.38 618.92Z" fill="#111" stroke="none"/>
<path d="M113.2 614.3L108.6 616.72L108.02 613.98Z" fill="#111" stroke="none"/>
<text x="72" y="362.5" font-size="10" text-anchor="middle" dominant-baseline="central" fill="#222">30</text>
<text x="35.2" y="490.2" font-size="14" text-anchor="middle" dominant-baseline="central" transform="rotate(-90 35.2 490.2)" fill="#222">243</text>
<text x="104.6" y="623" font-size="8" text-anchor="middle" dominant-baseline="central" transform="rotate(-12 104.6 623)" fill="#222">G1/2</text>
<path d="M190.8 592.6C190.73 583.83 190.57 555.43 190.4 540C190.23 524.57 190.07 508.42 189.8 500C189.53 491.58 189.43 492.52 188.8 489.5C188.17 486.48 187.27 484.12 186 481.9C184.73 479.68 183.43 478.1 181.2 476.2C178.97 474.3 175.47 472.72 172.6 470.5C169.73 468.28 166.7 465.92 164 462.9C161.3 459.88 158.38 456.22 156.4 452.4C154.42 448.58 153.06 443.71 152.1 440C151.14 436.29 150.82 433.43 150.62 430.12C150.41 426.8 150.49 423.42 150.87 420.13C151.25 416.84 151.95 413.53 152.92 410.36C153.9 407.19 155.18 404.06 156.71 401.11C158.24 398.17 160.07 395.33 162.1 392.71C164.14 390.09 166.45 387.62 168.93 385.42C171.41 383.21 174.13 381.2 176.96 379.48C179.8 377.76 182.84 376.28 185.94 375.1C189.03 373.92 192.29 373.01 195.55 372.41C198.81 371.81 202.18 371.5 205.5 371.5C208.82 371.5 212.19 371.81 215.45 372.41C218.71 373.01 221.97 373.92 225.06 375.1C228.16 376.28 231.2 377.76 234.04 379.48C236.87 381.2 239.59 383.21 242.07 385.42C244.55 387.62 246.86 390.09 248.9 392.71C250.93 395.33 252.76 398.17 254.29 401.11C255.82 404.06 257.1 407.19 258.08 410.36C259.05 413.53 259.75 416.84 260.13 420.13C260.51 423.42 260.59 426.8 260.38 430.12C260.18 433.43 259.86 436.29 258.9 440C257.94 443.71 256.58 448.58 254.6 452.4C252.62 456.22 249.7 459.88 247 462.9C244.3 465.92 241.27 468.28 238.4 470.5C235.53 472.72 232.03 474.3 229.8 476.2C227.57 478.1 226.27 479.68 225 481.9C223.73 484.12 222.83 486.48 222.2 489.5C221.57 492.52 221.47 491.58 221.2 500C220.93 508.42 220.77 524.57 220.6 540C220.43 555.43 220.27 583.83 220.2 592.6" fill="none" stroke="#222" stroke-width="0.75"/>
<path d="M199 490.6C197.33 490.13 196.88 490.05 195.5 488.6C194.12 487.15 192.45 484.13 190.7 481.9C188.95 479.67 187.38 477.27 185 475.2C182.62 473.13 179.57 471.87 176.4 469.5C173.23 467.13 169.02 464.02 166 461C162.98 457.98 160.3 454.9 158.3 451.4C156.3 447.9 154.98 443.5 154 440C153.02 436.5 152.67 433.63 152.44 430.41C152.21 427.2 152.27 423.91 152.62 420.71C152.97 417.51 153.62 414.28 154.55 411.2C155.48 408.11 156.71 405.06 158.18 402.19C159.65 399.33 161.41 396.55 163.38 394C165.35 391.45 167.59 389.04 169.99 386.89C172.39 384.74 175.03 382.77 177.78 381.09C180.53 379.42 183.48 377.96 186.49 376.81C189.5 375.66 192.66 374.77 195.83 374.19C199 373.6 202.28 373.3 205.5 373.3C208.72 373.3 212 373.6 215.17 374.19C218.34 374.77 221.5 375.66 224.51 376.81C227.52 377.96 230.47 379.42 233.22 381.09C235.97 382.77 238.61 384.74 241.01 386.89C243.41 389.04 245.65 391.45 247.62 394C249.59 396.55 251.35 399.33 252.82 402.19C254.29 405.06 255.52 408.11 256.45 411.2C257.38 414.28 258.03 417.51 258.38 420.71C258.73 423.91 258.79 427.2 258.56 430.41C258.33 433.63 257.98 436.5 257 440C256.02 443.5 254.7 447.9 252.7 451.4C250.7 454.9 248.02 457.98 245 461C241.98 464.02 237.77 467.13 234.6 469.5C231.43 471.87 228.38 473.13 226 475.2C223.62 477.27 222.05 479.67 220.3 481.9C218.55 484.13 216.88 487.15 215.5 488.6C214.12 490.05 213.67 490.13 212 490.6C210.33 491.07 207.67 491.4 205.5 491.4C203.33 491.4 200.67 491.07 199 490.6Z" fill="none" stroke="#222" stroke-width="0.75"/>
<path d="M200.2 488.4C198.68 487.97 197.82 487.8 196.4 486.4C194.98 485 193.43 482.1 191.7 480C189.97 477.9 188.38 475.87 186 473.8C183.62 471.73 180.42 469.82 177.4 467.6C174.38 465.38 170.92 463.35 167.9 460.5C164.88 457.65 161.37 453.92 159.3 450.5C157.23 447.08 156.41 443.31 155.5 440C154.59 436.69 154.12 433.79 153.87 430.65C153.61 427.51 153.65 424.3 153.98 421.16C154.3 418.03 154.92 414.88 155.81 411.85C156.7 408.83 157.89 405.84 159.32 403.04C160.75 400.23 162.46 397.51 164.37 395.01C166.29 392.5 168.47 390.14 170.81 388.03C173.15 385.92 175.72 384 178.41 382.35C181.09 380.7 183.98 379.28 186.92 378.15C189.86 377.02 192.95 376.14 196.05 375.57C199.15 374.99 202.35 374.7 205.5 374.7C208.65 374.7 211.85 374.99 214.95 375.57C218.05 376.14 221.14 377.02 224.08 378.15C227.02 379.28 229.91 380.7 232.59 382.35C235.28 384 237.85 385.92 240.19 388.03C242.53 390.14 244.71 392.5 246.63 395.01C248.54 397.51 250.25 400.23 251.68 403.04C253.11 405.84 254.3 408.83 255.19 411.85C256.08 414.88 256.7 418.03 257.02 421.16C257.35 424.3 257.39 427.51 257.13 430.65C256.88 433.79 256.41 436.69 255.5 440C254.59 443.31 253.77 447.08 251.7 450.5C249.63 453.92 246.12 457.65 243.1 460.5C240.08 463.35 236.62 465.38 233.6 467.6C230.58 469.82 227.38 471.73 225 473.8C222.62 475.87 221.03 477.9 219.3 480C217.57 482.1 216.02 485 214.6 486.4C213.18 487.8 212.32 487.97 210.8 488.4C209.28 488.83 207.27 489 205.5 489C203.73 489 201.72 488.83 200.2 488.4Z" fill="none" stroke="#333" stroke-width="0.7"/>
<circle cx="205.5" cy="472" r="10.1" fill="none" stroke="#333" stroke-width="0.75"/>
<circle cx="205.5" cy="472" r="9.2" fill="none" stroke="#555" stroke-width="0.5"/>
<rect x="195.6" y="594.3" width="19.7" height="2.6" rx="1.3" fill="#fff" stroke="#222" stroke-width="0.75"/>
<rect x="195.6" y="596.9" width="19.7" height="2.6" rx="1.3" fill="#fff" stroke="#222" stroke-width="0.75"/>
<rect x="195.6" y="599.5" width="19.7" height="2.6" rx="1.3" fill="#fff" stroke="#222" stroke-width="0.75"/>
<rect x="195.6" y="602" width="19.7" height="2.6" rx="1.3" fill="#fff" stroke="#222" stroke-width="0.75"/>
<rect x="192.3" y="589.8" width="26" height="4.3" rx="2" fill="#fff" stroke="#222" stroke-width="0.75"/>
<line x1="197" y1="591.9" x2="214" y2="591.9" stroke="#555" stroke-width="1.2"/>
<g fill="#b0b0b0" stroke="#262626" stroke-width="1.05"><circle cx="193.25" cy="381.85" r="1.35"/><circle cx="201.35" cy="381.85" r="1.35"/><circle cx="209.45" cy="381.85" r="1.35"/><circle cx="217.55" cy="381.85" r="1.35"/><circle cx="181.1" cy="385.9" r="1.35"/><circle cx="189.2" cy="385.9" r="1.35"/><circle cx="197.3" cy="385.9" r="1.35"/><circle cx="205.4" cy="385.9" r="1.35"/><circle cx="213.5" cy="385.9" r="1.35"/><circle cx="221.6" cy="385.9" r="1.35"/><circle cx="229.7" cy="385.9" r="1.35"/><circle cx="177.05" cy="389.95" r="1.35"/><circle cx="185.15" cy="389.95" r="1.35"/><circle cx="193.25" cy="389.95" r="1.35"/><circle cx="201.35" cy="389.95" r="1.35"/><circle cx="209.45" cy="389.95" r="1.35"/><circle cx="217.55" cy="389.95" r="1.35"/><circle cx="225.65" cy="389.95" r="1.35"/><circle cx="233.75" cy="389.95" r="1.35"/><circle cx="173" cy="394" r="1.35"/><circle cx="181.1" cy="394" r="1.35"/><circle cx="189.2" cy="394" r="1.35"/><circle cx="197.3" cy="394" r="1.35"/><circle cx="205.4" cy="394" r="1.35"/><circle cx="213.5" cy="394" r="1.35"/><circle cx="221.6" cy="394" r="1.35"/><circle cx="229.7" cy="394" r="1.35"/><circle cx="237.8" cy="394" r="1.35"/><circle cx="168.95" cy="398.05" r="1.35"/><circle cx="177.05" cy="398.05" r="1.35"/><circle cx="185.15" cy="398.05" r="1.35"/><circle cx="193.25" cy="398.05" r="1.35"/><circle cx="201.35" cy="398.05" r="1.35"/><circle cx="209.45" cy="398.05" r="1.35"/><circle cx="217.55" cy="398.05" r="1.35"/><circle cx="225.65" cy="398.05" r="1.35"/><circle cx="233.75" cy="398.05" r="1.35"/><circle cx="241.85" cy="398.05" r="1.35"/><circle cx="164.9" cy="402.1" r="1.35"/><circle cx="173" cy="402.1" r="1.35"/><circle cx="181.1" cy="402.1" r="1.35"/><circle cx="189.2" cy="402.1" r="1.35"/><circle cx="197.3" cy="402.1" r="1.35"/><circle cx="205.4" cy="402.1" r="1.35"/><circle cx="213.5" cy="402.1" r="1.35"/><circle cx="221.6" cy="402.1" r="1.35"/><circle cx="229.7" cy="402.1" r="1.35"/><circle cx="237.8" cy="402.1" r="1.35"/><circle cx="245.9" cy="402.1" r="1.35"/><circle cx="168.95" cy="406.15" r="1.35"/><circle cx="177.05" cy="406.15" r="1.35"/><circle cx="185.15" cy="406.15" r="1.35"/><circle cx="193.25" cy="406.15" r="1.35"/><circle cx="201.35" cy="406.15" r="1.35"/><circle cx="209.45" cy="406.15" r="1.35"/><circle cx="217.55" cy="406.15" r="1.35"/><circle cx="225.65" cy="406.15" r="1.35"/><circle cx="233.75" cy="406.15" r="1.35"/><circle cx="241.85" cy="406.15" r="1.35"/><circle cx="164.9" cy="410.2" r="1.35"/><circle cx="173" cy="410.2" r="1.35"/><circle cx="181.1" cy="410.2" r="1.35"/><circle cx="189.2" cy="410.2" r="1.35"/><circle cx="197.3" cy="410.2" r="1.35"/><circle cx="205.4" cy="410.2" r="1.35"/><circle cx="213.5" cy="410.2" r="1.35"/><circle cx="221.6" cy="410.2" r="1.35"/><circle cx="229.7" cy="410.2" r="1.35"/><circle cx="237.8" cy="410.2" r="1.35"/><circle cx="245.9" cy="410.2" r="1.35"/><circle cx="160.85" cy="414.25" r="1.35"/><circle cx="168.95" cy="414.25" r="1.35"/><circle cx="177.05" cy="414.25" r="1.35"/><circle cx="185.15" cy="414.25" r="1.35"/><circle cx="193.25" cy="414.25" r="1.35"/><circle cx="201.35" cy="414.25" r="1.35"/><circle cx="209.45" cy="414.25" r="1.35"/><circle cx="217.55" cy="414.25" r="1.35"/><circle cx="225.65" cy="414.25" r="1.35"/><circle cx="233.75" cy="414.25" r="1.35"/><circle cx="241.85" cy="414.25" r="1.35"/><circle cx="249.95" cy="414.25" r="1.35"/><circle cx="164.9" cy="418.3" r="1.35"/><circle cx="173" cy="418.3" r="1.35"/><circle cx="181.1" cy="418.3" r="1.35"/><circle cx="189.2" cy="418.3" r="1.35"/><circle cx="197.3" cy="418.3" r="1.35"/><circle cx="205.4" cy="418.3" r="1.35"/><circle cx="213.5" cy="418.3" r="1.35"/><circle cx="221.6" cy="418.3" r="1.35"/><circle cx="229.7" cy="418.3" r="1.35"/><circle cx="237.8" cy="418.3" r="1.35"/><circle cx="245.9" cy="418.3" r="1.35"/><circle cx="160.85" cy="422.35" r="1.35"/><circle cx="168.95" cy="422.35" r="1.35"/><circle cx="177.05" cy="422.35" r="1.35"/><circle cx="185.15" cy="422.35" r="1.35"/><circle cx="193.25" cy="422.35" r="1.35"/><circle cx="201.35" cy="422.35" r="1.35"/><circle cx="209.45" cy="422.35" r="1.35"/><circle cx="217.55" cy="422.35" r="1.35"/><circle cx="225.65" cy="422.35" r="1.35"/><circle cx="233.75" cy="422.35" r="1.35"/><circle cx="241.85" cy="422.35" r="1.35"/><circle cx="249.95" cy="422.35" r="1.35"/><circle cx="164.9" cy="426.4" r="1.35"/><circle cx="173" cy="426.4" r="1.35"/><circle cx="181.1" cy="426.4" r="1.35"/><circle cx="189.2" cy="426.4" r="1.35"/><circle cx="197.3" cy="426.4" r="1.35"/><circle cx="205.4" cy="426.4" r="1.35"/><circle cx="213.5" cy="426.4" r="1.35"/><circle cx="221.6" cy="426.4" r="1.35"/><circle cx="229.7" cy="426.4" r="1.35"/><circle cx="237.8" cy="426.4" r="1.35"/><circle cx="245.9" cy="426.4" r="1.35"/><circle cx="160.85" cy="430.45" r="1.35"/><circle cx="168.95" cy="430.45" r="1.35"/><circle cx="177.05" cy="430.45" r="1.35"/><circle cx="185.15" cy="430.45" r="1.35"/><circle cx="193.25" cy="430.45" r="1.35"/><circle cx="201.35" cy="430.45" r="1.35"/><circle cx="209.45" cy="430.45" r="1.35"/><circle cx="217.55" cy="430.45" r="1.35"/><circle cx="225.65" cy="430.45" r="1.35"/><circle cx="233.75" cy="430.45" r="1.35"/><circle cx="241.85" cy="430.45" r="1.35"/><circle cx="249.95" cy="430.45" r="1.35"/><circle cx="164.9" cy="434.5" r="1.35"/><circle cx="173" cy="434.5" r="1.35"/><circle cx="181.1" cy="434.5" r="1.35"/><circle cx="189.2" cy="434.5" r="1.35"/><circle cx="197.3" cy="434.5" r="1.35"/><circle cx="205.4" cy="434.5" r="1.35"/><circle cx="213.5" cy="434.5" r="1.35"/><circle cx="221.6" cy="434.5" r="1.35"/><circle cx="229.7" cy="434.5" r="1.35"/><circle cx="237.8" cy="434.5" r="1.35"/><circle cx="245.9" cy="434.5" r="1.35"/><circle cx="160.85" cy="438.55" r="1.35"/><circle cx="168.95" cy="438.55" r="1.35"/><circle cx="177.05" cy="438.55" r="1.35"/><circle cx="185.15" cy="438.55" r="1.35"/><circle cx="193.25" cy="438.55" r="1.35"/><circle cx="201.35" cy="438.55" r="1.35"/><circle cx="209.45" cy="438.55" r="1.35"/><circle cx="217.55" cy="438.55" r="1.35"/><circle cx="225.65" cy="438.55" r="1.35"/><circle cx="233.75" cy="438.55" r="1.35"/><circle cx="241.85" cy="438.55" r="1.35"/><circle cx="249.95" cy="438.55" r="1.35"/><circle cx="164.9" cy="442.6" r="1.35"/><circle cx="173" cy="442.6" r="1.35"/><circle cx="181.1" cy="442.6" r="1.35"/><circle cx="189.2" cy="442.6" r="1.35"/><circle cx="197.3" cy="442.6" r="1.35"/><circle cx="205.4" cy="442.6" r="1.35"/><circle cx="213.5" cy="442.6" r="1.35"/><circle cx="221.6" cy="442.6" r="1.35"/><circle cx="229.7" cy="442.6" r="1.35"/><circle cx="237.8" cy="442.6" r="1.35"/><circle cx="245.9" cy="442.6" r="1.35"/><circle cx="168.95" cy="446.65" r="1.35"/><circle cx="177.05" cy="446.65" r="1.35"/><circle cx="185.15" cy="446.65" r="1.35"/><circle cx="193.25" cy="446.65" r="1.35"/><circle cx="201.35" cy="446.65" r="1.35"/><circle cx="209.45" cy="446.65" r="1.35"/><circle cx="217.55" cy="446.65" r="1.35"/><circle cx="225.65" cy="446.65" r="1.35"/><circle cx="233.75" cy="446.65" r="1.35"/><circle cx="241.85" cy="446.65" r="1.35"/><circle cx="164.9" cy="450.7" r="1.35"/><circle cx="173" cy="450.7" r="1.35"/><circle cx="181.1" cy="450.7" r="1.35"/><circle cx="189.2" cy="450.7" r="1.35"/><circle cx="221.6" cy="450.7" r="1.35"/><circle cx="229.7" cy="450.7" r="1.35"/><circle cx="237.8" cy="450.7" r="1.35"/><circle cx="245.9" cy="450.7" r="1.35"/><circle cx="168.95" cy="454.75" r="1.35"/><circle cx="177.05" cy="454.75" r="1.35"/><circle cx="185.15" cy="454.75" r="1.35"/><circle cx="225.65" cy="454.75" r="1.35"/><circle cx="233.75" cy="454.75" r="1.35"/><circle cx="241.85" cy="454.75" r="1.35"/><circle cx="173" cy="458.8" r="1.35"/><circle cx="181.1" cy="458.8" r="1.35"/><circle cx="189.2" cy="458.8" r="1.35"/><circle cx="221.6" cy="458.8" r="1.35"/><circle cx="229.7" cy="458.8" r="1.35"/><circle cx="237.8" cy="458.8" r="1.35"/><circle cx="177.05" cy="462.85" r="1.35"/><circle cx="185.15" cy="462.85" r="1.35"/><circle cx="225.65" cy="462.85" r="1.35"/><circle cx="233.75" cy="462.85" r="1.35"/></g>
<line x1="148" y1="382.5" x2="161.2" y2="393" stroke="#222" stroke-width="0.6"/>
<line x1="126.1" y1="382.5" x2="148" y2="382.5" stroke="#444" stroke-width="0.7"/>
<path d="M161.2 393L156.42 390.98L158.16 388.79Z" fill="#222" stroke="none"/>
<line x1="161.2" y1="393" x2="249.8" y2="461" stroke="#333" stroke-width="0.5"/>
<line x1="249.8" y1="461" x2="267.7" y2="474.9" stroke="#222" stroke-width="0.6"/>
<path d="M249.8 461L254.6 462.98L252.88 465.18Z" fill="#222" stroke="none"/>
<text x="129.8" y="379.6" font-size="7" text-anchor="middle" dominant-baseline="central" fill="#333">ø</text>
<text x="141.8" y="378" font-size="10" text-anchor="middle" dominant-baseline="central" fill="#222">115</text>
<circle cx="375.9" cy="397.6" r="5.6" fill="#fff" stroke="#333" stroke-width="0.7"/>
<circle cx="375.9" cy="397.6" r="4.3" fill="none" stroke="#555" stroke-width="0.6"/>
<circle cx="375.9" cy="397.6" r="3" fill="none" stroke="#777" stroke-width="0.5"/>
<circle cx="435.8" cy="397.6" r="5.6" fill="#fff" stroke="#333" stroke-width="0.7"/>
<circle cx="435.8" cy="397.6" r="4.3" fill="none" stroke="#555" stroke-width="0.6"/>
<circle cx="435.8" cy="397.6" r="3" fill="none" stroke="#777" stroke-width="0.5"/>
<circle cx="375.2" cy="502.4" r="5.6" fill="#fff" stroke="#333" stroke-width="0.7"/>
<circle cx="375.2" cy="502.4" r="4.3" fill="none" stroke="#555" stroke-width="0.6"/>
<circle cx="375.2" cy="502.4" r="3" fill="none" stroke="#777" stroke-width="0.5"/>
<circle cx="435" cy="502.8" r="5.6" fill="#fff" stroke="#333" stroke-width="0.7"/>
<circle cx="435" cy="502.8" r="4.3" fill="none" stroke="#555" stroke-width="0.6"/>
<circle cx="435" cy="502.8" r="3" fill="none" stroke="#777" stroke-width="0.5"/>
<circle cx="405.6" cy="449.3" r="58.2" fill="#fff" stroke="#555" stroke-width="0.6"/>
<circle cx="405.6" cy="449.3" r="56.2" fill="none" stroke="#666" stroke-width="0.6"/>
<line x1="405.5" y1="386" x2="405.5" y2="535" stroke="#555" stroke-width="0.5" stroke-dasharray="9 2 1.5 2"/>
<line x1="405.5" y1="535" x2="405.5" y2="574" stroke="#444" stroke-width="0.5"/>
<line x1="341" y1="450" x2="472" y2="450" stroke="#555" stroke-width="0.5" stroke-dasharray="9 2 1.5 2"/>
<circle cx="405.6" cy="421.5" r="8.9" fill="none" stroke="#333" stroke-width="0.7"/>
<line x1="393.5" y1="421.5" x2="417.5" y2="421.5" stroke="#555" stroke-width="0.5" stroke-dasharray="4 1.5 1 1.5"/>
<line x1="322" y1="391" x2="405.5" y2="391" stroke="#555" stroke-width="0.6"/>
<line x1="322" y1="535.2" x2="405.5" y2="535.2" stroke="#555" stroke-width="0.6"/>
<line x1="326.5" y1="391" x2="326.5" y2="535.2" stroke="#555" stroke-width="0.6"/>
<path d="M326.5 391L328.7 403L324.3 403Z" fill="#111" stroke="none"/>
<path d="M326.5 535.2L324.3 523.2L328.7 523.2Z" fill="#111" stroke="none"/>
<text x="332" y="460.5" font-size="11" text-anchor="middle" dominant-baseline="central" transform="rotate(90 332 460.5)" fill="#222">185</text>
<g transform="rotate(45 405.3 465)"><path d="M389.1 465 A16.2 16.2 0 0 1 421.5 465 L418.3 526 Q418 535.2 405.3 535.2 Q392.6 535.2 392.3 526 Z" fill="none" stroke="#1a1a1a" stroke-width="0.85" stroke-dasharray="10 1.2"/></g>
<g transform="rotate(-45 405.3 465)"><path d="M389.1 465 A16.2 16.2 0 0 1 421.5 465 L418.3 526 Q418 535.2 405.3 535.2 Q392.6 535.2 392.3 526 Z" fill="none" stroke="#1a1a1a" stroke-width="0.85" stroke-dasharray="10 1.2"/></g>
<line x1="405.3" y1="465" x2="360" y2="510.3" stroke="#666" stroke-width="0.45" stroke-dasharray="9 2 1.5 2"/>
<line x1="405.3" y1="465" x2="479.5" y2="541" stroke="#444" stroke-width="0.55"/>
<path d="M389.1 465 A16.2 16.2 0 0 1 421.5 465 L418.3 526 Q418 535.2 405.3 535.2 Q392.6 535.2 392.3 526 Z" fill="#fff" fill-opacity="0" stroke="#222" stroke-width="0.9"/>
<path d="M389.3 463.5 A16.2 16.2 0 0 1 421.3 463.5" fill="none" stroke="#111" stroke-width="1.8"/>
<line x1="441.7" y1="334" x2="441.7" y2="361.3" stroke="#333" stroke-width="0.6"/>
<line x1="441.7" y1="361.3" x2="372.6" y2="528" stroke="#333" stroke-width="0.55"/>
<path d="M427.7 394.9L429.78 384.4L433.66 386Z" fill="#111" stroke="none"/>
<path d="M383.6 502.5L381.52 513L377.64 511.4Z" fill="#111" stroke="none"/>
<text x="448" y="347.6" font-size="11" text-anchor="middle" dominant-baseline="central" transform="rotate(90 448 347.6)" fill="#222">Ø152</text>
<path d="M405.3 568.6 A103.6 103.6 0 0 0 478.56 538.26" fill="none" stroke="#333" stroke-width="0.6"/>
<path d="M405.5 568.6L417.57 566.92L417.42 571.12Z" fill="#111" stroke="none"/>
<path d="M478.56 538.26L471.21 547.98L468.35 544.9Z" fill="#111" stroke="none"/>
<rect x="438" y="553" width="12" height="17" fill="#fff"/>
<text x="443.6" y="561.5" font-size="11" text-anchor="middle" dominant-baseline="central" transform="rotate(90 443.6 561.5)" fill="#222">45°</text>
<g stroke="#222" stroke-width="0.7" fill="none">
<line x1="484" y1="372.3" x2="548.3" y2="372.3" stroke="#555" stroke-width="0.55"/>
<line x1="509.2" y1="367.6" x2="509.2" y2="394.3" stroke="#555" stroke-width="0.5"/>
<line x1="524.4" y1="367.6" x2="524.4" y2="394.3" stroke="#555" stroke-width="0.5"/>
<rect x="504.4" y="394.4" width="26.1" height="8.9" fill="none"/>
<rect x="501.7" y="393.1" width="2.2" height="18.6" fill="none" stroke="#222" stroke-width="0.5"/>
<line x1="502.8" y1="393.1" x2="502.8" y2="411.7" stroke="#111" stroke-width="1.1"/>
<rect x="503.9" y="403.6" width="1.9" height="7.2" fill="none" stroke="#222" stroke-width="0.5"/>
<rect x="501.7" y="488.4" width="2.2" height="18.6" fill="none" stroke="#222" stroke-width="0.5"/>
<line x1="502.8" y1="488.4" x2="502.8" y2="507" stroke="#111" stroke-width="1.1"/>
<rect x="503.9" y="489.4" width="1.9" height="7.2" fill="none" stroke="#222" stroke-width="0.5"/>
<line x1="505.8" y1="403.5" x2="546.6" y2="403.5"/>
<line x1="505.8" y1="410.6" x2="546.6" y2="410.6"/>
<line x1="505.8" y1="489.6" x2="546.6" y2="489.6"/>
<line x1="505.8" y1="496.5" x2="546.6" y2="496.5"/>
<path d="M502.5 411.7 Q501.5 414 501.5 418 L501.5 482 Q501.5 486 502.5 488.4" fill="none" stroke="#444" stroke-width="0.6"/>
<line x1="501.5" y1="507" x2="501.5" y2="593" stroke="#444" stroke-width="0.5"/>
<rect x="543.1" y="416" width="3.6" height="13.6" fill="none" stroke="#222" stroke-width="0.6"/>
<rect x="543.1" y="471.6" width="3.6" height="11.6" fill="none" stroke="#222" stroke-width="0.6"/>
<rect x="546.6" y="404.2" width="15.6" height="92.6" fill="#fff" stroke="#222" stroke-width="0.6"/>
<rect x="548.9" y="404.2" width="2.6" height="92.6" fill="#d0d0d0" stroke="none"/>
<rect x="556.1" y="404.2" width="2" height="92.6" fill="#d0d0d0" stroke="none"/>
<rect x="559" y="404.2" width="3" height="92.6" fill="#e4e4e4" stroke="none"/>
<line x1="548.4" y1="404.2" x2="548.4" y2="496.8" stroke="#222" stroke-width="0.9"/>
<line x1="551.9" y1="404.2" x2="551.9" y2="496.8" stroke="#222" stroke-width="0.9"/>
<line x1="555.6" y1="404.2" x2="555.6" y2="496.8" stroke="#222" stroke-width="0.9"/>
<line x1="558.5" y1="404.2" x2="558.5" y2="496.8" stroke="#222" stroke-width="0.9"/>
<rect x="562.6" y="391.2" width="5.8" height="118" fill="none" stroke="#222" stroke-width="0.7"/>
<line x1="566.8" y1="391.5" x2="566.8" y2="509" stroke="#777" stroke-width="0.4"/>
<circle cx="516.5" cy="471.2" r="11.75" fill="none" stroke="#222" stroke-width="0.7"/>
<circle cx="516.5" cy="471.2" r="9.7" fill="none" stroke="#222" stroke-width="0.7"/>
<circle cx="516.5" cy="471.2" r="7.2" fill="none" stroke="#444" stroke-width="0.6"/>
<line x1="516.6" y1="386" x2="516.6" y2="539.5" stroke="#555" stroke-width="0.45" stroke-dasharray="8 1.5 1.5 1.5"/>
<line x1="501" y1="471.2" x2="540" y2="471.2" stroke="#666" stroke-width="0.45" stroke-dasharray="8 1.5 1.5 1.5"/>
<rect x="569.2" y="414" width="1.3" height="15.4" fill="none" stroke="#222" stroke-width="0.6"/>
<rect x="570.5" y="418.3" width="10.1" height="7.1" fill="none" stroke="#222" stroke-width="0.6"/>
<line x1="571" y1="420.3" x2="580" y2="420.3" stroke="#555" stroke-width="0.4"/>
<line x1="571" y1="423.4" x2="580" y2="423.4" stroke="#555" stroke-width="0.4"/>
<rect x="580.6" y="414.3" width="10.4" height="15.1" fill="none" stroke="#222" stroke-width="0.7"/>
<rect x="591" y="411.9" width="4.2" height="19.1" fill="none" stroke="#222" stroke-width="0.7"/>
<line x1="560" y1="421.9" x2="640" y2="421.9" stroke="#555" stroke-width="0.5"/>
<rect x="569" y="449.5" width="4.7" height="33.4" fill="none" stroke="#222" stroke-width="0.6"/>
<line x1="572.7" y1="449.5" x2="572.7" y2="482.9" stroke="#555" stroke-width="0.4"/>
<path d="M573.7 449.5 L594.4 449.5 L594.4 460.7 M573.7 482.9 L590.4 482.9" fill="none" stroke="#222" stroke-width="0.6"/>
<path d="M576.1 466.2 L582.5 451.1 L588.8 449.5 L594.4 460.7 L587.2 463 L590.4 482.1 L578 480 Z" fill="none" stroke="#333" stroke-width="0.55"/>
<path d="M576.9 448 L586.5 444 L589 449 M576.9 448 L575.3 451" fill="none" stroke="#333" stroke-width="0.55" stroke-dasharray="2.5 1"/>
<line x1="565" y1="466.2" x2="640" y2="466.2" stroke="#555" stroke-width="0.5"/>
<path d="M587.4 465.8C587.85 466.93 589.2 469.22 590.1 472.6C591 475.98 592 481.6 592.8 486.1C593.6 490.6 594.1 495.1 594.9 499.6C595.7 504.1 596.48 507.25 597.6 513.1C598.72 518.95 600.93 531.1 601.6 534.7" fill="none" stroke="#222" stroke-width="0.75"/>
<path d="M588.8 464.5C589.7 465.85 592.97 469 594.2 472.6C595.43 476.2 595.63 481.6 596.2 486.1C596.77 490.6 597.03 495.1 597.6 499.6C598.17 504.1 598.37 507.25 599.6 513.1C600.83 518.95 604.1 531.1 605 534.7" fill="none" stroke="#222" stroke-width="0.75"/>
<path d="M588.1 467.2C588.72 468.1 590.73 469.45 591.8 472.6C592.87 475.75 593.75 481.6 594.5 486.1C595.25 490.6 596 497.35 596.3 499.6" fill="none" stroke="#555" stroke-width="0.45"/>
<line x1="601.6" y1="534.9" x2="605" y2="534.9" stroke="#222" stroke-width="0.7"/>
<path d="M592.8 465.4C594.67 468.33 599.8 476.9 604 483C608.2 489.1 614.3 495.97 618 502C621.7 508.03 624.83 516.33 626.2 519.2" fill="none" stroke="#333" stroke-width="0.6" stroke-dasharray="3 1.2"/>
<path d="M596 463.8C597.83 466.5 603 474.13 607 480C611 485.87 616.27 492.95 620 499C623.73 505.05 627.83 513.42 629.4 516.3" fill="none" stroke="#333" stroke-width="0.6" stroke-dasharray="3 1.2"/>
<line x1="626.2" y1="519.2" x2="629.4" y2="516.3" stroke="#666" stroke-width="0.6"/>
</g>
<line x1="605.5" y1="535.3" x2="640" y2="535.3" stroke="#444" stroke-width="0.5"/>
<line x1="636.8" y1="421.9" x2="636.8" y2="535.3" stroke="#666" stroke-width="0.6"/>
<path d="M636.8 421.9L639 433.9L634.6 433.9Z" fill="#111" stroke="none"/>
<path d="M636.8 466.2L634.6 454.2L639 454.2Z" fill="#111" stroke="none"/>
<path d="M636.8 466.2L639 478.2L634.6 478.2Z" fill="#111" stroke="none"/>
<path d="M636.8 535.3L634.6 523.3L639 523.3Z" fill="#111" stroke="none"/>
<text x="642.5" y="444" font-size="11" text-anchor="middle" dominant-baseline="central" transform="rotate(90 642.5 444)" fill="#222">57</text>
<text x="642.5" y="503.6" font-size="11" text-anchor="middle" dominant-baseline="central" transform="rotate(90 642.5 503.6)" fill="#222">88.5</text>
<line x1="604.7" y1="535.3" x2="604.7" y2="559" stroke="#444" stroke-width="0.5"/>
<line x1="629.4" y1="518.5" x2="629.4" y2="593" stroke="#444" stroke-width="0.5"/>
<line x1="562.3" y1="496.8" x2="562.3" y2="540" stroke="#444" stroke-width="0.5"/>
<line x1="516.7" y1="537.1" x2="533" y2="537.1" stroke="#666" stroke-width="0.6"/>
<line x1="545" y1="537.1" x2="562.3" y2="537.1" stroke="#666" stroke-width="0.6"/>
<path d="M516.7 537.1L528.7 534.9L528.7 539.3Z" fill="#111" stroke="none"/>
<path d="M562.3 537.1L550.3 539.3L550.3 534.9Z" fill="#111" stroke="none"/>
<text x="539.3" y="537" font-size="11" text-anchor="middle" dominant-baseline="central" transform="rotate(90 539.3 537)" fill="#222">40~60</text>
<line x1="501.4" y1="556.8" x2="548" y2="556.8" stroke="#666" stroke-width="0.6"/>
<line x1="561" y1="556.8" x2="604.7" y2="556.8" stroke="#666" stroke-width="0.6"/>
<path d="M501.4 556.8L513.9 554.6L513.9 559Z" fill="#111" stroke="none"/>
<path d="M604.7 556.8L592.2 559L592.2 554.6Z" fill="#111" stroke="none"/>
<text x="554.6" y="556.8" font-size="11" text-anchor="middle" dominant-baseline="central" transform="rotate(90 554.6 556.8)" fill="#222">136.6</text>
<line x1="501.4" y1="590.3" x2="559" y2="590.3" stroke="#666" stroke-width="0.6"/>
<line x1="572" y1="590.3" x2="629.4" y2="590.3" stroke="#666" stroke-width="0.6"/>
<path d="M501.4 590.3L513.9 588.1L513.9 592.5Z" fill="#111" stroke="none"/>
<path d="M629.4 590.3L616.9 592.5L616.9 588.1Z" fill="#111" stroke="none"/>
<text x="565.5" y="590.2" font-size="11" text-anchor="middle" dominant-baseline="central" transform="rotate(90 565.5 590.2)" fill="#222">168</text>
<path d="M508.8 372.3L496.8 374.4L496.8 370.2Z" fill="#111" stroke="none"/>
<path d="M524.8 372.3L536.8 370.2L536.8 374.4Z" fill="#111" stroke="none"/>
<text x="516.7" y="377.2" font-size="10.5" text-anchor="middle" dominant-baseline="central" transform="rotate(90 516.7 377.2)" fill="#222">G1/2</text>
<text x="534.4" y="471.5" font-size="5" text-anchor="middle" dominant-baseline="central" transform="rotate(90 534.4 471.5)" fill="#333">HOT</text>
</svg></body></html>
